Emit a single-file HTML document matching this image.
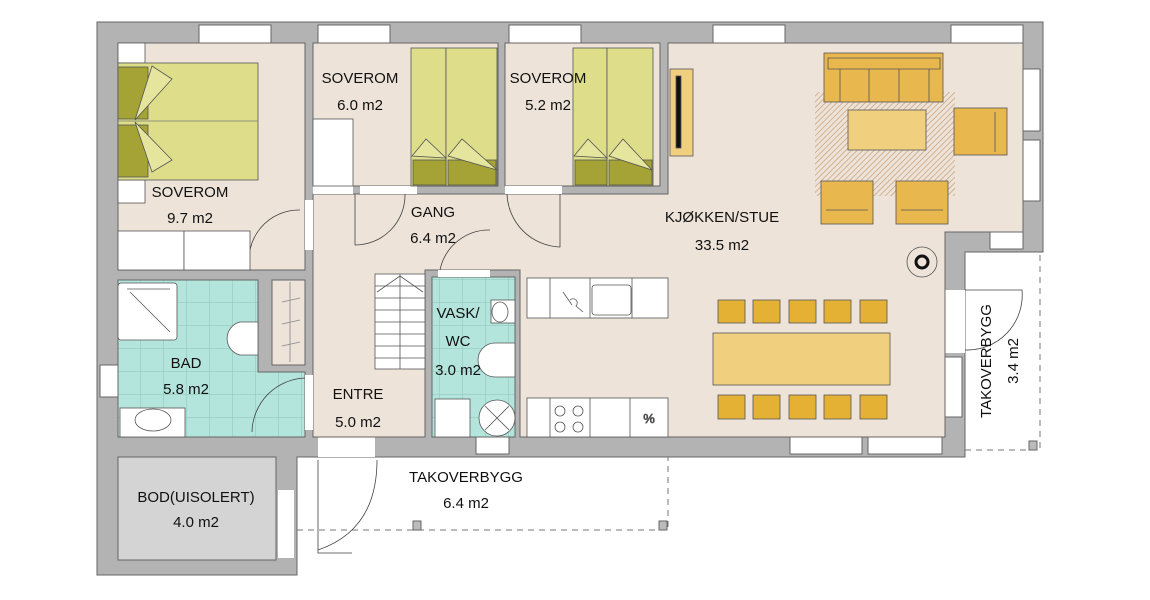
<!DOCTYPE html>
<html><head><meta charset="utf-8"><style>
html,body{margin:0;padding:0;background:#fff;}
svg{display:block}
text{font-family:"Liberation Sans",sans-serif;font-size:15px;fill:#111;text-anchor:middle}
</style></head><body>
<svg width="1150" height="600" viewBox="0 0 1150 600" xmlns="http://www.w3.org/2000/svg">
<defs>
<pattern id="tile" x="118" y="280" width="23" height="23" patternUnits="userSpaceOnUse">
<rect width="23" height="23" fill="#b4e5dc"/><path d="M23 0V23M0 23H23" stroke="#8cc3b8" stroke-width="1"/></pattern>
<pattern id="hatch" width="4" height="4" patternUnits="userSpaceOnUse" patternTransform="rotate(45)">
<rect width="4" height="4" fill="#ede3d9"/><line x1="0" y1="0" x2="0" y2="4" stroke="#c9a27c" stroke-width="1.5"/></pattern>
</defs>
<path d="M293 457V530H668V457" fill="none" stroke="#777" stroke-dasharray="6 5"/>
<path d="M965 450H1040V252" fill="none" stroke="#777" stroke-dasharray="6 5"/>
<rect x="413" y="521" width="8" height="9" fill="#bbb" stroke="#666"/>
<rect x="659" y="521" width="8" height="9" fill="#bbb" stroke="#666"/>
<rect x="1029" y="441" width="8" height="9" fill="#bbb" stroke="#666"/>
<polygon points="97,22 1043,22 1043,252 965,252 965,457 297,457 297,575 97,575" fill="#b3b3b3" stroke="#666"/>
<g fill="#fff" stroke="#666">
<rect x="199" y="25" width="72" height="18"/><rect x="318" y="25" width="72" height="18"/>
<rect x="509" y="25" width="72" height="18"/><rect x="713" y="25" width="72" height="18"/>
<rect x="951" y="25" width="72" height="18"/>
<rect x="1023" y="69" width="17" height="62"/><rect x="1023" y="140" width="17" height="61"/>
<rect x="990" y="232" width="33" height="17"/>
<rect x="100" y="365" width="18" height="32"/>
<rect x="790" y="437" width="72" height="17"/><rect x="868" y="437" width="74" height="17"/>
<rect x="476" y="437" width="33" height="17"/>
<rect x="945" y="357" width="17" height="60"/>
</g>
<rect x="318" y="437" width="57" height="20" fill="#fff"/>
<rect x="945" y="290" width="20" height="63" fill="#fff"/>
<rect x="278" y="490" width="16" height="68" fill="#fff"/>
<g stroke="#666" stroke-width="1">
<rect x="118" y="43" width="187" height="227" fill="#ede3d9"/>
<rect x="313" y="43" width="185" height="143" fill="#ede3d9"/>
<rect x="505" y="43" width="155" height="143" fill="#ede3d9"/>
<polygon points="313,194 668,194 668,43 1023,43 1023,232 945,232 945,437 520,437 520,270 425,270 425,437 313,437" fill="#ede3d9"/>
<rect x="432" y="277" width="83" height="160" fill="url(#tile)"/>
<polygon points="118,280 258,280 258,372 305,372 305,437 118,437" fill="url(#tile)"/>
<rect x="272" y="280" width="33" height="85" fill="#ede3d9"/>
<rect x="118" y="457" width="158" height="103" fill="#d4d4d4"/>
</g>
<rect x="313" y="186" width="40" height="8" fill="#fff"/>
<rect x="360" y="186" width="57" height="8" fill="#fff"/>
<rect x="505" y="186" width="57" height="8" fill="#fff"/>
<rect x="305" y="200" width="8" height="50" fill="#fff"/>
<rect x="438" y="270" width="52" height="7" fill="#fff"/>
<rect x="305" y="375" width="8" height="55" fill="#fff"/>
<g fill="none" stroke="#444" stroke-width="0.8">
<path d="M355 194V245A50 50 0 0 0 405 194"/>
<path d="M507 194A55 55 0 0 0 560 247V194"/>
<path d="M490 230A50 50 0 0 0 440 270"/>
<path d="M250 270A50 50 0 0 1 300 210"/>
<path d="M305 378A55 55 0 0 0 252 432"/>
<path d="M318 460V553H352M377 460Q377 530 318 550"/>
<path d="M965 290H1022A55 55 0 0 1 965 350"/>
</g>
<g stroke="#888" stroke-width="0.8"><line x1="282" y1="302" x2="300" y2="298"/><line x1="282" y1="324" x2="300" y2="320"/><line x1="282" y1="346" x2="300" y2="342"/><line x1="290" y1="282" x2="290" y2="362"/></g>
<g fill="#fff" stroke="#555" stroke-width="0.8">
<rect x="375" y="274" width="50" height="95"/>
<path d="M375 286H425M375 298H425M375 310H425M375 322H425M375 334H425M375 346H425M375 358H425M400 274V369"/>
<path d="M377 292L400 276L423 292" fill="none"/>
</g>
<g stroke="#555" stroke-width="0.8">
<rect x="118" y="43" width="27" height="20" fill="#fff"/>
<rect x="118" y="180" width="27" height="23" fill="#fff"/>
<rect x="118" y="63" width="140" height="117" fill="#dede8a"/>
<line x1="118" y1="121" x2="258" y2="121" stroke="#777"/>
<rect x="118" y="67" width="30" height="52" fill="#a5a236"/>
<rect x="118" y="125" width="30" height="52" fill="#a5a236"/>
<polygon points="135,120 152,66 172,79" fill="#e5e59d"/>
<polygon points="135,122 152,172 172,160" fill="#e5e59d"/>
<rect x="118" y="231" width="66" height="39" fill="#fff"/>
<rect x="184" y="231" width="66" height="39" fill="#fff"/>
<rect x="313" y="119" width="40" height="67" fill="#fff"/>
<rect x="411" y="48" width="35" height="138" fill="#dede8a"/>
<rect x="446" y="48" width="51" height="138" fill="#dede8a"/>
<rect x="413" y="160" width="33" height="25" fill="#a5a236"/>
<rect x="448" y="160" width="48" height="25" fill="#a5a236"/>
<polygon points="412,156 426,139 446,158" fill="#e5e59d"/>
<polygon points="448,156 462,139 497,170" fill="#e5e59d"/>
<rect x="573" y="48" width="34" height="138" fill="#dede8a"/>
<rect x="607" y="48" width="46" height="138" fill="#dede8a"/>
<rect x="575" y="160" width="32" height="25" fill="#a5a236"/>
<rect x="609" y="160" width="43" height="25" fill="#a5a236"/>
<polygon points="574,156 588,139 607,158" fill="#e5e59d"/>
<polygon points="609,156 623,139 652,170" fill="#e5e59d"/>
<rect x="670" y="69" width="23" height="87" fill="#f0cf7e"/>
<rect x="676" y="76" width="5" height="72" fill="#111"/>
<rect x="815" y="92" width="140" height="104" fill="url(#hatch)" stroke="none"/>
<rect x="824" y="53" width="119" height="49" fill="#e8b84f"/>
<path d="M828 58H940V69H828ZM840 69V102M869 69V102M899 69V102M929 69V102" fill="none"/>
<rect x="848" y="110" width="78" height="40" fill="#f0cf7e"/>
<rect x="954" y="108" width="53" height="47" fill="#e8b84f"/>
<line x1="995" y1="112" x2="995" y2="152"/>
<rect x="821" y="181" width="52" height="43" fill="#e8b84f"/>
<rect x="896" y="181" width="52" height="43" fill="#e8b84f"/>
<line x1="826" y1="210" x2="868" y2="210"/><line x1="901" y1="210" x2="943" y2="210"/>
<circle cx="922" cy="262" r="15" fill="#ede3d9"/>
<circle cx="922" cy="262" r="6" fill="none" stroke="#111" stroke-width="3"/>
<g fill="#e4b135">
<rect x="718" y="300" width="27" height="23"/><rect x="753" y="300" width="27" height="23"/><rect x="789" y="300" width="27" height="23"/><rect x="824" y="300" width="27" height="23"/><rect x="860" y="300" width="27" height="23"/>
<rect x="718" y="395" width="27" height="24"/><rect x="753" y="395" width="27" height="24"/><rect x="789" y="395" width="27" height="24"/><rect x="824" y="395" width="27" height="24"/><rect x="860" y="395" width="27" height="24"/>
</g>
<rect x="713" y="333" width="177" height="52" fill="#f0cf7e"/>
<rect x="527" y="278" width="141" height="40" fill="#fff"/>
<line x1="550" y1="278" x2="550" y2="318"/><line x1="590" y1="278" x2="590" y2="318"/><line x1="632" y1="278" x2="632" y2="318"/>
<rect x="592" y="285" width="39" height="30" fill="#fff" rx="3"/>
<path d="M563 292L572 305M570 300A4 4 0 1 1 576 306L583 312" fill="none"/>
<rect x="527" y="398" width="141" height="39" fill="#fff"/>
<line x1="550" y1="398" x2="550" y2="437"/><line x1="590" y1="398" x2="590" y2="437"/><line x1="630" y1="398" x2="630" y2="437"/>
<g fill="none"><circle cx="560" cy="411" r="5"/><circle cx="578" cy="411" r="5"/><circle cx="560" cy="427" r="5"/><circle cx="578" cy="427" r="5"/></g>
<text x="649" y="423" style="font-size:13px">%</text>
<rect x="118" y="283" width="59" height="57" fill="#fff" rx="3"/>
<line x1="130" y1="292" x2="170" y2="332"/><line x1="127" y1="289" x2="170" y2="289"/>
<path d="M258 322H240A17 17 0 0 0 240 355H258Z" fill="#fff"/>
<rect x="120" y="408" width="65" height="29" fill="#fff"/>
<ellipse cx="153" cy="420" rx="18" ry="11" fill="#fff"/>
<rect x="491" y="300" width="24" height="23" fill="#fff"/>
<ellipse cx="500" cy="312" rx="8" ry="10" fill="#fff"/>
<path d="M515 343H495A17 17 0 0 0 495 377H515Z" fill="#fff"/>
<rect x="435" y="399" width="35" height="38" fill="#fff"/>
<circle cx="497" cy="418" r="18" fill="#fff"/>
<path d="M485 406L509 430M485 430L509 406" fill="none"/>
</g>
<text x="190" y="197">SOVEROM</text><text x="190" y="223">9.7 m2</text>
<text x="360" y="83">SOVEROM</text><text x="360" y="110">6.0 m2</text>
<text x="548" y="83">SOVEROM</text><text x="548" y="110">5.2 m2</text>
<text x="433" y="217">GANG</text><text x="433" y="243">6.4 m2</text>
<text x="722" y="222">KJØKKEN/STUE</text><text x="722" y="250">33.5 m2</text>
<text x="186" y="368">BAD</text><text x="186" y="394">5.8 m2</text>
<text x="358" y="399">ENTRE</text><text x="358" y="427">5.0 m2</text>
<text x="458" y="318">VASK/</text><text x="458" y="346">WC</text><text x="458" y="375">3.0 m2</text>
<text x="196" y="502">BOD(UISOLERT)</text><text x="196" y="527">4.0 m2</text>
<text x="466" y="482">TAKOVERBYGG</text><text x="466" y="508">6.4 m2</text>
<text transform="translate(991,361) rotate(-90)">TAKOVERBYGG</text>
<text transform="translate(1018,361) rotate(-90)">3.4 m2</text>
</svg>
</body></html>
